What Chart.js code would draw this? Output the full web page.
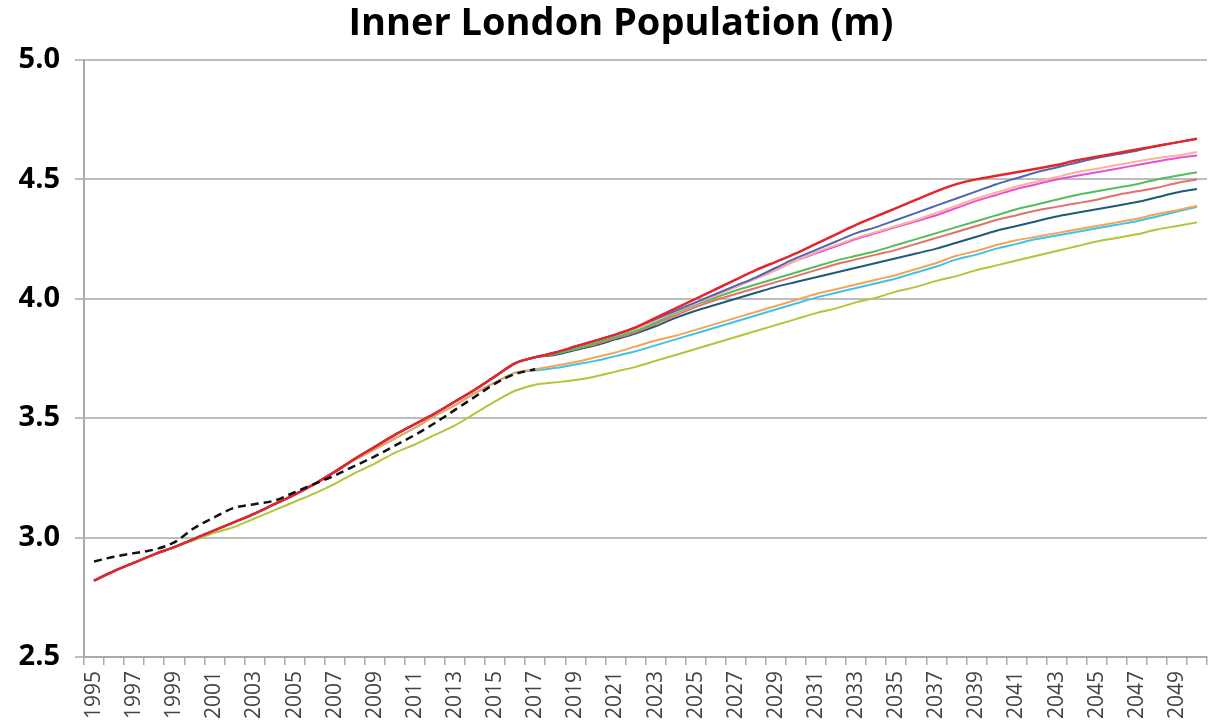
<!DOCTYPE html>
<html>
<head>
<meta charset="utf-8">
<title>Inner London Population (m)</title>
<script src="https://cdn.jsdelivr.net/npm/chart.js@4/dist/chart.umd.min.js"></script>
<style>
  html, body { margin: 0; padding: 0; background: #fff; }
  #populationChart { display: block; }
</style>
</head>
<body>
<canvas id="populationChart" width="1208" height="727"></canvas>
<script>
// Years on the x axis
const years = [
  1995, 1996, 1997, 1998, 1999, 2000, 2001, 2002, 2003, 2004,
  2005, 2006, 2007, 2008, 2009, 2010, 2011, 2012, 2013, 2014,
  2015, 2016, 2017, 2018, 2019, 2020, 2021, 2022, 2023, 2024,
  2025, 2026, 2027, 2028, 2029, 2030, 2031, 2032, 2033, 2034,
  2035, 2036, 2037, 2038, 2039, 2040, 2041, 2042, 2043, 2044,
  2045, 2046, 2047, 2048, 2049, 2050
];

const yTicks = [2.5, 3.0, 3.5, 4.0, 4.5, 5.0];

// Recorded population, 1995-2017 (dashed)
const actual = [
  2.90, 2.92, 2.935, 2.95, 2.98, 3.04, 3.085, 3.125, 3.14, 3.155,
  3.19, 3.225, 3.26, 3.30, 3.34, 3.385, 3.43, 3.48, 3.535, 3.59,
  3.645, 3.685, 3.705
];

// Back series 1995-2016 shared by the projections
const backUpper = [
  2.82, 2.86, 2.895, 2.93, 2.96, 2.995, 3.03, 3.065, 3.10, 3.14,
  3.18, 3.225, 3.275, 3.33, 3.38, 3.43, 3.475, 3.52, 3.57, 3.62,
  3.675, 3.73
];
const backMiddle = [
  2.82, 2.86, 2.895, 2.93, 2.96, 2.995, 3.03, 3.065, 3.10, 3.14,
  3.18, 3.225, 3.275, 3.325, 3.37, 3.415, 3.46, 3.51, 3.555, 3.605,
  3.65, 3.69
];
const backLow = [
  2.82, 2.86, 2.895, 2.93, 2.96, 2.99, 3.02, 3.045, 3.08, 3.115,
  3.15, 3.185, 3.225, 3.27, 3.31, 3.355, 3.39, 3.43, 3.47, 3.52,
  3.57, 3.615
];

// Projections 2017-2050
const projRed = [
  3.755, 3.775, 3.80, 3.825, 3.85, 3.88, 3.92, 3.96, 4.00, 4.04,
  4.08, 4.12, 4.155, 4.19, 4.23, 4.27, 4.31, 4.345, 4.38, 4.415,
  4.45, 4.48, 4.50, 4.515, 4.53, 4.545, 4.56, 4.58, 4.595, 4.61,
  4.625, 4.64, 4.655, 4.67
];
const projBlue = [
  3.755, 3.775, 3.80, 3.825, 3.85, 3.88, 3.915, 3.95, 3.985, 4.02,
  4.055, 4.09, 4.13, 4.17, 4.205, 4.24, 4.275, 4.30, 4.33, 4.36,
  4.39, 4.42, 4.45, 4.48, 4.505, 4.53, 4.55, 4.57, 4.59, 4.605,
  4.62, 4.64, 4.655, 4.67
];
const projMagenta = [
  3.755, 3.775, 3.80, 3.825, 3.85, 3.875, 3.91, 3.945, 3.98, 4.015,
  4.05, 4.085, 4.12, 4.16, 4.19, 4.22, 4.25, 4.275, 4.30, 4.325,
  4.35, 4.38, 4.41, 4.435, 4.46, 4.48, 4.50, 4.515, 4.53, 4.545,
  4.56, 4.575, 4.59, 4.60
];
const projPeach = [
  3.755, 3.775, 3.80, 3.825, 3.85, 3.875, 3.91, 3.945, 3.98, 4.015,
  4.05, 4.085, 4.12, 4.16, 4.195, 4.225, 4.255, 4.28, 4.305, 4.33,
  4.36, 4.39, 4.42, 4.445, 4.47, 4.49, 4.51, 4.53, 4.545, 4.56,
  4.575, 4.59, 4.60, 4.615
];
const projGreen = [
  3.755, 3.77, 3.79, 3.815, 3.84, 3.865, 3.90, 3.94, 3.975, 4.005,
  4.035, 4.06, 4.085, 4.11, 4.135, 4.16, 4.18, 4.20, 4.225, 4.25,
  4.275, 4.30, 4.325, 4.35, 4.375, 4.395, 4.415, 4.435, 4.45, 4.465,
  4.48, 4.50, 4.515, 4.53
];
const projSalmon = [
  3.755, 3.77, 3.79, 3.81, 3.835, 3.86, 3.895, 3.93, 3.965, 3.995,
  4.02, 4.045, 4.07, 4.095, 4.12, 4.145, 4.165, 4.185, 4.205, 4.23,
  4.255, 4.28, 4.305, 4.33, 4.35, 4.37, 4.385, 4.40, 4.415, 4.435,
  4.45, 4.465, 4.485, 4.50
];
const projTeal = [
  3.755, 3.765, 3.785, 3.805, 3.83, 3.855, 3.885, 3.92, 3.95, 3.975,
  4.00, 4.025, 4.05, 4.07, 4.09, 4.11, 4.13, 4.15, 4.17, 4.19,
  4.21, 4.235, 4.26, 4.285, 4.305, 4.325, 4.345, 4.36, 4.375, 4.39,
  4.405, 4.425, 4.445, 4.46
];
const projOrange = [
  3.705, 3.72, 3.735, 3.755, 3.775, 3.80, 3.825, 3.845, 3.87, 3.895,
  3.92, 3.945, 3.97, 3.995, 4.02, 4.04, 4.06, 4.08, 4.10, 4.125,
  4.15, 4.18, 4.20, 4.225, 4.245, 4.26, 4.275, 4.29, 4.305, 4.32,
  4.335, 4.355, 4.37, 4.39
];
const projCyan = [
  3.70, 3.71, 3.725, 3.74, 3.76, 3.78, 3.805, 3.83, 3.855, 3.88,
  3.905, 3.93, 3.955, 3.98, 4.005, 4.025, 4.045, 4.065, 4.085, 4.11,
  4.135, 4.165, 4.185, 4.21, 4.23, 4.25, 4.265, 4.28, 4.295, 4.31,
  4.325, 4.345, 4.365, 4.385
];
const projYellow = [
  3.64, 3.65, 3.66, 3.675, 3.695, 3.715, 3.74, 3.765, 3.79, 3.815,
  3.84, 3.865, 3.89, 3.915, 3.94, 3.96, 3.985, 4.005, 4.03, 4.05,
  4.075, 4.095, 4.12, 4.14, 4.16, 4.18, 4.20, 4.22, 4.24, 4.255,
  4.27, 4.29, 4.305, 4.32
];

const chartTitle = 'Inner London Population (m)';

// Title is drawn by hand so it can sit a little right of the canvas centre
const titlePlugin = {
    id: 'centredTitle',
    afterDraw(chart) {
        const ctx = chart.ctx;
        ctx.save();
        ctx.font = 'bold 38px "Open Sans"';
        ctx.fillStyle = '#000';
        ctx.textAlign = 'center';
        ctx.textBaseline = 'middle';
        ctx.fillText(chartTitle, 621, 24);
        ctx.restore();
    }
};

class PopulationChart {
    constructor(canvasId) {
        this.ctx = document.getElementById(canvasId).getContext('2d');
        this.chart = null;
        this.draw();
    }

    line(data, color, width = 2) {
        return {
            data: data,
            borderColor: color,
            borderWidth: width,
            pointRadius: 0,
            fill: false,
            cubicInterpolationMode: 'monotone'
        };
    }

    buildDatasets() {
        // first dataset sits on top of the stack
        const dashed = this.line(actual, '#111111', 2.5);
        dashed.borderDash = [8, 5];
        return [
            dashed,
            this.line(backUpper.concat(projRed), '#e3262b', 2.5),
            this.line(backUpper.concat(projBlue), '#4f67b3'),
            this.line(backUpper.concat(projPeach), '#f6b49c'),
            this.line(backUpper.concat(projMagenta), '#ea4fd6'),
            this.line(backUpper.concat(projGreen), '#52be5a'),
            this.line(backUpper.concat(projSalmon), '#e4706c'),
            this.line(backUpper.concat(projTeal), '#1f5a78'),
            this.line(backMiddle.concat(projOrange), '#f3a45a'),
            this.line(backMiddle.concat(projCyan), '#3ec3e6'),
            this.line(backLow.concat(projYellow), '#b2c43a')
        ];
    }

    draw() {
        this.chart = new Chart(this.ctx, {
            type: 'line',
            data: {
                labels: years,
                datasets: this.buildDatasets()
            },
            plugins: [titlePlugin],
            options: {
                responsive: false,
                animation: false,
                layout: { padding: { left: 0, right: 1, top: 60, bottom: 0 } },
                plugins: {
                    legend: { display: false },
                    tooltip: { enabled: false },
                    title: { display: false }
                },
                scales: {
                    x: {
                        offset: true,
                        grid: {
                            offset: true,
                            drawOnChartArea: false,
                            tickLength: 8,
                            color: '#aaaaaa',
                            lineWidth: 1.5
                        },
                        border: { color: '#aaaaaa', width: 2 },
                        ticks: {
                            autoSkip: false,
                            maxRotation: 90,
                            minRotation: 90,
                            padding: 6,
                            color: '#444',
                            font: { family: 'Open Sans', size: 21 },
                            callback: (v, i) => (i % 2 === 0 ? years[i] : '')
                        },
                        afterFit: (scale) => {
                            scale.height = 70;
                            scale.paddingLeft = 0;
                            scale.paddingRight = 0;
                        }
                    },
                    y: {
                        min: yTicks[0],
                        max: yTicks[yTicks.length - 1],
                        afterBuildTicks: (scale) => {
                            scale.ticks = yTicks.map(v => ({ value: v }));
                        },
                        grid: { color: '#bdbdbd', lineWidth: 2, tickLength: 9 },
                        border: { color: '#aaaaaa', width: 2 },
                        ticks: {
                            padding: 15,
                            color: '#000',
                            font: { family: 'Open Sans', size: 29, weight: 'bold' },
                            callback: (v) => Number(v).toFixed(1)
                        },
                        afterFit: (scale) => {
                            scale.width = 84;
                            scale.paddingTop = 0;
                            scale.paddingBottom = 0;
                        }
                    }
                }
            }
        });
    }
}

new PopulationChart('populationChart');
</script>
</body>
</html>
